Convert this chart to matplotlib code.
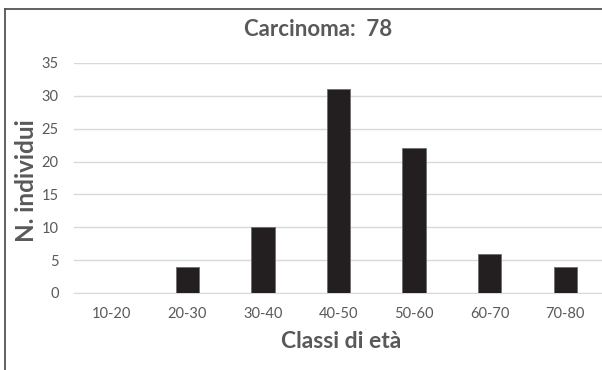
import matplotlib
matplotlib.use("Agg")
import matplotlib.pyplot as plt
from matplotlib.lines import Line2D

categories = ["10-20", "20-30", "30-40", "40-50", "50-60", "60-70", "70-80"]
counts = [0, 4, 10, 31, 22, 6, 4]
title = "Carcinoma:  78"
yticks = [0, 5, 10, 15, 20, 25, 30, 35]

plt.rcParams["font.family"] = ["Lato", "DejaVu Sans"]
text_col = "#595959"

fig = plt.figure(figsize=(6.02, 3.70), dpi=100)
ax = fig.add_axes([74 / 602, 1 - 293 / 370, 529 / 602, 230 / 370])

x = range(len(categories))
ax.bar(x, counts, width=0.31, color="#231f20", edgecolor="#6e6e6e", linewidth=0.6, zorder=3)
ax.set_xlim(-0.5, len(categories) - 0.5)
ax.set_ylim(0, 35)
ax.set_yticks(yticks)
ax.set_xticks(list(x))
ax.set_xticklabels(categories)
ax.grid(axis="y", color="#d9d9d9", linewidth=1.0, zorder=0)
for s in ["top", "right", "left"]:
    ax.spines[s].set_visible(False)
ax.spines["bottom"].set_color("#d9d9d9")
ax.tick_params(axis="both", length=0, labelsize=10.5, colors=text_col)
ax.tick_params(axis="x", pad=10)
ax.tick_params(axis="y", pad=11)

fig.text(318 / 602, 1 - 30 / 370, title, ha="center", va="center",
         fontsize=16, fontweight="bold", color=text_col)
fig.text(341 / 602, 1 - 342 / 370, "Classi di età", ha="center", va="center",
         fontsize=16.5, fontweight="bold", color=text_col)
fig.text(26 / 602, 1 - 181 / 370, "N. individui", ha="center", va="center",
         rotation=90, fontsize=17.5, fontweight="bold", color=text_col)

# frame around the chart area
fig.add_artist(Line2D([4.5 / 602, 4.5 / 602], [0, 1 - 8.5 / 370], transform=fig.transFigure,
                      color="#555555", linewidth=1.3))
fig.add_artist(Line2D([4.5 / 602, 1], [1 - 8.5 / 370, 1 - 8.5 / 370], transform=fig.transFigure,
                      color="#555555", linewidth=1.3))

fig.savefig("out.png", dpi=100)
